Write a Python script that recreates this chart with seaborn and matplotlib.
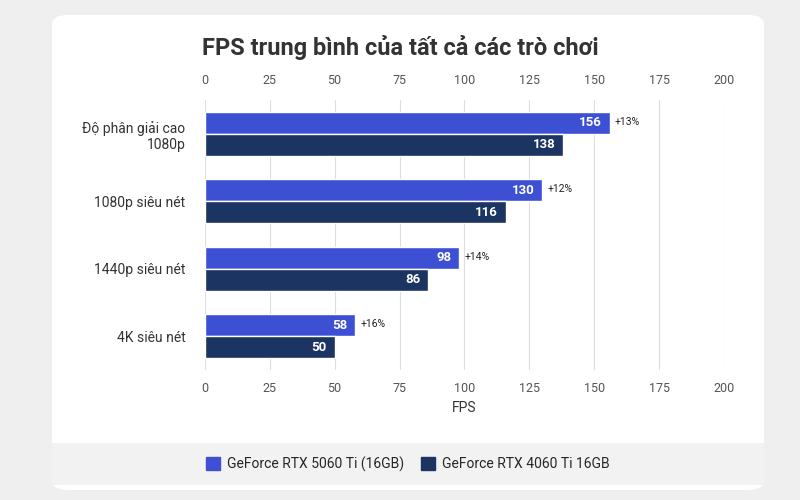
import matplotlib
matplotlib.use("Agg")
import matplotlib.pyplot as plt
import seaborn as sns
import pandas as pd
from matplotlib.patches import FancyBboxPatch, Rectangle

categories = ["Độ phân giải cao\n1080p", "1080p siêu nét", "1440p siêu nét", "4K siêu nét"]
series = ["GeForce RTX 5060 Ti (16GB)", "GeForce RTX 4060 Ti 16GB"]
fps_5060 = [156, 130, 98, 58]
fps_4060 = [138, 116, 86, 50]
gains = ["+13%", "+12%", "+14%", "+16%"]
ticks = [0, 25, 50, 75, 100, 125, 150, 175, 200]
colors = ["#3d50d4", "#1c3461"]

df = pd.DataFrame({
    "cat": categories * 2,
    "fps": fps_5060 + fps_4060,
    "gpu": [series[0]] * 4 + [series[1]] * 4,
})

sns.set_theme(style="white")
plt.rcParams['font.family'] = ['Roboto', 'DejaVu Sans']
fig = plt.figure(figsize=(8, 5), dpi=100)
fig.patch.set_facecolor("#efefef")
fig.patches.append(FancyBboxPatch((0.065, 0.02), 0.89, 0.95, boxstyle="round,pad=0,rounding_size=0.02",
                                  transform=fig.transFigure, facecolor="white", edgecolor="none", zorder=-2))
fig.patches.append(Rectangle((0.065, 0.03), 0.89, 0.085, transform=fig.transFigure,
                             facecolor="#f2f2f2", edgecolor="none", zorder=-1))

ax = fig.add_axes([0.256, 0.26, 0.649, 0.54])
ax.set_zorder(2)
ax.set_facecolor("none")
sns.barplot(data=df, y="cat", x="fps", hue="gpu", palette=colors, orient="h",
            width=0.65, dodge=True, ax=ax, legend=False, saturation=1)
ax.set_xlim(0, 200)
ax.set_xticks(ticks)
ax.tick_params(axis="x", labeltop=True, top=False, bottom=False, labelsize=9, colors="#555555", pad=3)
ax.tick_params(axis="y", left=False, labelsize=10, colors="#333333", pad=8)
ax.grid(axis="x", color="#dddddd", lw=0.8)
ax.set_axisbelow(True)
for s in ax.spines.values():
    s.set_visible(False)
ax.set_ylabel("")
ax.set_xlabel("FPS", fontsize=10, color="#333333")

for ci, cont in enumerate(ax.containers):
    for j, bar in enumerate(cont):
        w = bar.get_width()
        yc = bar.get_y() + bar.get_height() / 2
        ax.text(w - 3, yc, f"{w:.0f}", ha="right", va="center", color="white", fontsize=9.5, fontweight="bold")
        if ci == 0:
            ax.text(w + 2, bar.get_y() + bar.get_height() * 0.45, gains[j], ha="left", va="center",
                    fontsize=7.5, color="#222222")

fig.text(0.5, 0.89, "FPS trung bình của tất cả các trò chơi", ha="center", fontsize=17,
         fontweight="bold", color="#333333")

handles = [Rectangle((0, 0), 1, 1, color=c) for c in colors]
fig.legend(handles, series, loc="center", bbox_to_anchor=(0.51, 0.072), ncol=2, frameon=False,
           fontsize=10, handlelength=1.0, handleheight=1.0, columnspacing=1.2, handletextpad=0.5)

fig.savefig("out.png", dpi=100, facecolor=fig.get_facecolor())
